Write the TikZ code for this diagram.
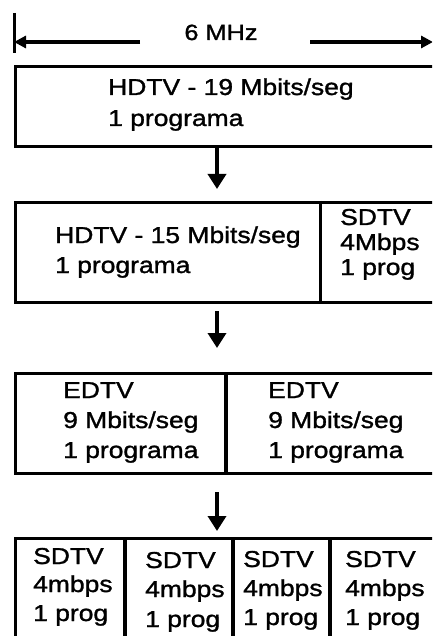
\documentclass[tikz,border=0pt]{standalone}
\usepackage{fontspec}
\setmainfont{Liberation Sans}[FakeStretch=1.15,FakeBold=1.3]
\usetikzlibrary{arrows.meta}
\tikzset{
  box/.style={draw, line width=3pt, anchor=north west, inner sep=0pt},
  divider/.style={line width=3pt},
  thickdiv/.style={line width=4pt},
  txt/.style={anchor=base west, inner sep=0pt, font=\fontsize{23}{27}\selectfont},
  flow/.style={line width=3.5pt, -{Triangle[length=15pt,width=18pt]}},
  dim/.style={line width=3.5pt, -{Triangle[length=12pt,width=12pt]}}
}
\begin{document}
\begin{tikzpicture}[x=1pt,y=-1pt]
\useasboundingbox (0,0) rectangle (432,636);
\clip (0,0) rectangle (432,636);
% dimension line
\coordinate (tickTop) at (14,13);
\coordinate (tickBot) at (14,53);
\coordinate (lStart) at (140,42);
\coordinate (lEnd) at (14,42);
\coordinate (rStart) at (310,42);
\coordinate (rEnd) at (433,42);
\draw[line width=3pt] (tickTop) -- (tickBot);
\draw[dim] (lStart) -- (lEnd);
\draw[dim] (rStart) -- (rEnd);
\node[anchor=base, inner sep=0pt, font=\fontsize{22}{26}\selectfont] (mhz) at (221,40) {6 MHz};
% box 1
\node[box, minimum width=440pt, minimum height=80pt] (b1) at (14,65) {};
\node[txt] (t1a) at (108,95) {HDTV - 19 Mbits/seg};
\node[txt] (t1b) at (108,126) {1 programa};
% arrow 1
\coordinate (a1s) at (217,148);
\coordinate (a1e) at (217,189);
\draw[flow] (a1s) -- (a1e);
% box 2
\node[box, minimum width=440pt, minimum height=100pt] (b2) at (14,201) {};
\coordinate (d2t) at (320,201);
\coordinate (d2b) at (320,301);
\draw[divider] (d2t) -- (d2b);
\node[txt] (t2a) at (55,243) {HDTV - 15 Mbits/seg};
\node[txt] (t2b) at (55,273) {1 programa};
\node[txt] (t2c) at (340,225) {SDTV};
\node[txt] (t2d) at (340,250) {4Mbps};
\node[txt] (t2e) at (340,275) {1 prog};
% arrow 2
\coordinate (a2s) at (217,311);
\coordinate (a2e) at (217,348);
\draw[flow] (a2s) -- (a2e);
% box 3
\node[box, minimum width=440pt, minimum height=100pt] (b3) at (14,372) {};
\coordinate (d3t) at (226,372);
\coordinate (d3b) at (226,472);
\draw[thickdiv] (d3t) -- (d3b);
\node[txt] (t3a) at (63,398) {EDTV};
\node[txt] (t3b) at (63,428) {9 Mbits/seg};
\node[txt] (t3c) at (63,458) {1 programa};
\node[txt] (t3d) at (268,398) {EDTV};
\node[txt] (t3e) at (268,428) {9 Mbits/seg};
\node[txt] (t3f) at (268,458) {1 programa};
% arrow 3
\coordinate (a3s) at (217,492);
\coordinate (a3e) at (217,531);
\draw[flow] (a3s) -- (a3e);
% box 4
\node[box, minimum width=440pt, minimum height=140pt] (b4) at (14,537) {};
\coordinate (d4at) at (125,537);
\coordinate (d4ab) at (125,640);
\coordinate (d4bt) at (233,537);
\coordinate (d4bb) at (233,640);
\coordinate (d4ct) at (330,537);
\coordinate (d4cb) at (330,640);
\draw[thickdiv] (d4at) -- (d4ab);
\draw[thickdiv] (d4bt) -- (d4bb);
\draw[thickdiv] (d4ct) -- (d4cb);
\node[txt] (t4a) at (33,564) {SDTV};
\node[txt] (t4b) at (33,592) {4mbps};
\node[txt] (t4c) at (33,621) {1 prog};
\node[txt] (t4d) at (145,568) {SDTV};
\node[txt] (t4e) at (145,597) {4mbps};
\node[txt] (t4f) at (145,627) {1 prog};
\node[txt] (t4g) at (243,567) {SDTV};
\node[txt] (t4h) at (243,596) {4mbps};
\node[txt] (t4i) at (243,625) {1 prog};
\node[txt] (t4j) at (345,567) {SDTV};
\node[txt] (t4k) at (345,596) {4mbps};
\node[txt] (t4l) at (345,625) {1 prog};
\end{tikzpicture}
\end{document}
